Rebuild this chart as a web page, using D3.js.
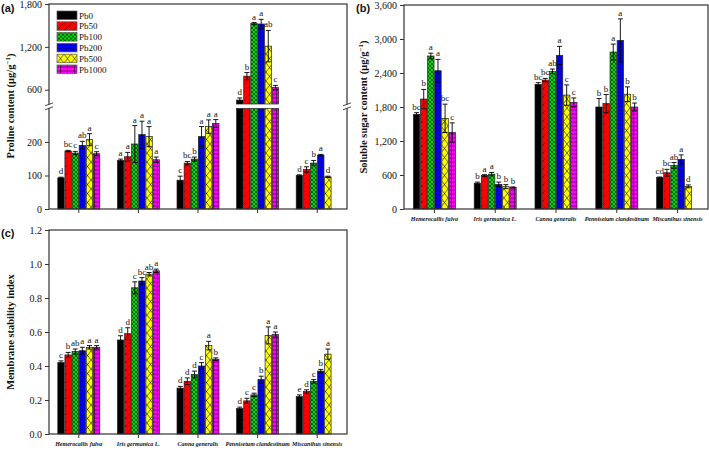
<!DOCTYPE html>
<html>
<head>
<meta charset="utf-8">
<script src="https://cdn.jsdelivr.net/npm/d3@7"></script>
<style>
    body { margin: 0; background: #fff; }
    svg text { font-family: "Liberation Serif", "Times New Roman", serif; fill: #111; }
    .plab { font-family: "Liberation Sans", Arial, sans-serif !important; font-weight: bold; font-size: 11px; }
    .tick text { font-size: 10px; }
    .ytitle { font-weight: bold; font-size: 10.5px; }
    .xlab { font-style: italic; font-weight: bold; font-size: 6px; }
    .letter { font-size: 9px; }
</style>
</head>
<body>
<svg id="chart" width="709" height="450"></svg>
<script>
    const species = ["Hemerocallis fulva", "Iris germanica L.", "Canna generalis", "Pennisetum clandestinum", "Miscanthus sinensis"];
    const treatments = ["Pb0", "Pb50", "Pb100", "Pb200", "Pb500", "Pb1000"];
    const colors = ["#000000", "#ff0000", "#00dd00", "#0000ff", "#ffff00", "#ff00ff"];

    // (a) proline, rows = species, cols = treatments
    const prolineMean = [
        [93, 173, 167, 190, 207, 165],
        [145, 156, 194, 222, 216, 147],
        [86, 137, 149, 216, 246, 255],
        [455, 790, 1525, 1520, 1210, 630],
        [100, 118, 137, 161, 96, null]
    ];
    const prolineErr = [
        [2, 2, 5, 12, 18, 6],
        [4, 13, 55, 40, 30, 8],
        [12, 5, 6, 30, 20, 12],
        [30, 50, 15, 65, 220, 30],
        [2, 8, 8, 2, 2, null]
    ];
    const prolineLetters = [
        ["d", "bc", "c", "ab", "a", "c"],
        ["a", "a", "a", "a", "a", "a"],
        ["c", "bc", "b", "a", "a", "a"],
        ["d", "b", "a", "a", "ab", "c"],
        ["d", "c", "b", "a", "d", null]
    ];

    // (b) soluble sugar
    const sugarMean = [
        [1670, 1940, 2700, 2440, 1600, 1350],
        [455, 590, 615, 435, 395, 380],
        [2200, 2275, 2430, 2710, 2010, 1880],
        [1800, 1860, 2770, 2975, 2025, 1800],
        [555, 640, 770, 875, 400, null]
    ];
    const sugarErr = [
        [30, 170, 50, 200, 250, 170],
        [20, 15, 30, 40, 35, 10],
        [30, 30, 40, 160, 180, 80],
        [150, 160, 140, 380, 130, 70],
        [10, 60, 50, 80, 25, null]
    ];
    const sugarLetters = [
        ["bc", "b", "a", "a", "bc", "c"],
        ["b", "a", "a", "b", "b", "b"],
        ["bc", "bc", "ab", "a", "c", "c"],
        ["b", "b", "a", "a", "b", "b"],
        ["cd", "bc", "ab", "a", "d", null]
    ];

    // (c) membrane stability index
    const msiMean = [
        [0.42, 0.465, 0.485, 0.49, 0.51, 0.51],
        [0.553, 0.59, 0.86, 0.90, 0.94, 0.96],
        [0.27, 0.31, 0.35, 0.40, 0.52, 0.44],
        [0.15, 0.195, 0.23, 0.32, 0.58, 0.585],
        [0.22, 0.25, 0.31, 0.37, 0.47, null]
    ];
    const msiErr = [
        [0.01, 0.015, 0.015, 0.02, 0.01, 0.01],
        [0.025, 0.035, 0.035, 0.02, 0.01, 0.01],
        [0.01, 0.02, 0.02, 0.02, 0.025, 0.008],
        [0.008, 0.015, 0.01, 0.02, 0.05, 0.015],
        [0.01, 0.01, 0.01, 0.01, 0.03, null]
    ];
    const msiLetters = [
        ["c", "b", "ab", "a", "a", "a"],
        ["d", "d", "c", "bc", "ab", "a"],
        ["d", "d", "d", "c", "a", "b"],
        ["d", "c", "c", "b", "a", "a"],
        ["e", "d", "c", "b", "a", null]
    ];

    const svg = d3.select("#chart");
    const defs = svg.append("defs");

    // fill patterns
    function pattern(id, w, h, color, d) {
        const p = defs.append("pattern").attr("id", id)
            .attr("patternUnits", "userSpaceOnUse").attr("width", w).attr("height", h);
        p.append("rect").attr("width", w).attr("height", h).attr("fill", color);
        if (d) p.append("path").attr("d", d).attr("stroke", "#111").attr("stroke-width", 0.6).attr("fill", "none");
    }
    pattern("p0", 4, 4, colors[0], null);
    pattern("p1", 8, 8, colors[1], "M0,8L8,0M-2,2L2,-2M6,10L10,6");
    pattern("p2", 4, 4, colors[2], "M0,0L4,4M4,0L0,4");
    pattern("p3", 6, 3.5, colors[3], "M0,1.75H6");
    pattern("p4", 7, 9, colors[4], "M0,0L7,9M7,0L0,9");
    pattern("p5", 7, 4, colors[5], "M0,2H7M3.5,0V4");

    const inner = d3.scaleBand().domain(treatments).range([-21, 21]).paddingInner(0.1);

    function drawPanel(p) {
        const g = svg.append("g");
        const x = d3.scaleBand().domain(species).range([p.left, p.right]);
        const segs = p.segments.map(s => d3.scaleLinear().domain(s.domain).range(s.range));

        species.forEach((sp, i) => {
            const cx = x(sp) + x.bandwidth() / 2;
            treatments.forEach((t, j) => {
                const v = p.means[i][j];
                if (v == null) return;
                const bx = cx + inner(t);
                const bw = inner.bandwidth();
                segs.forEach(s => {
                    const [d0, d1] = s.domain();
                    if (v <= d0) return;
                    const y1 = s(Math.min(v, d1)), y0 = s(d0);
                    g.append("rect").attr("x", bx).attr("y", y1).attr("width", bw).attr("height", y0 - y1)
                        .attr("fill", `url(#p${j})`).attr("stroke", "#222").attr("stroke-width", 0.7);
                });
                const sc = segs.find(s => v >= s.domain()[0] && v <= s.domain()[1]);
                const e = p.errs[i][j];
                const ex = bx + bw / 2;
                const yt = sc(v + e), yb = sc(v - e);
                g.append("path")
                    .attr("d", `M${ex},${yb}V${yt}M${ex - 2.5},${yt}H${ex + 2.5}M${ex - 2.5},${yb}H${ex + 2.5}`)
                    .attr("stroke", "#000").attr("stroke-width", 0.9).attr("fill", "none");
                g.append("text").attr("class", "letter").attr("x", ex).attr("y", yt - 3)
                    .attr("text-anchor", "middle").text(p.letters[i][j]);
            });
        });

        // y axes
        segs.forEach((s, k) => {
            const ax = g.append("g").attr("transform", `translate(${p.left},0)`)
                .call(d3.axisLeft(s).tickValues(p.ticks[k]).tickSize(4).tickPadding(3).tickFormat(p.fmt));
            ax.select(".domain").remove();
            ax.selectAll("line").attr("stroke", "#333");
        });

        // x ticks
        const xa = g.append("g").attr("transform", `translate(0,${p.bottom})`)
            .call(d3.axisBottom(x).tickSize(4).tickFormat(""));
        xa.select(".domain").remove();
        xa.selectAll("line").attr("stroke", "#333");

        // frame
        g.append("rect").attr("x", p.left).attr("y", p.top).attr("width", p.right - p.left)
            .attr("height", p.bottom - p.top).attr("fill", "none").attr("stroke", "#333").attr("stroke-width", 1.2);

        if (p.breakY) {
            [p.left, p.right].forEach(bx => {
                g.append("rect").attr("x", bx - 2).attr("y", p.breakY - 1.5).attr("width", 4).attr("height", 3).attr("fill", "#fff");
                g.append("path")
                    .attr("d", `M${bx - 4},${p.breakY - 0.5}L${bx + 4},${p.breakY - 3.5}M${bx - 4},${p.breakY + 3.5}L${bx + 4},${p.breakY + 0.5}`)
                    .attr("stroke", "#333").attr("stroke-width", 0.9);
            });
        }

        if (p.showLabels) {
            species.forEach(sp => {
                g.append("text").attr("class", "xlab").attr("x", x(sp) + x.bandwidth() / 2)
                    .attr("y", p.bottom + 12).attr("text-anchor", "middle").text(sp);
            });
        }

        const yt = g.append("text").attr("class", "ytitle")
            .attr("transform", `translate(${p.titleX},${p.titleY}) rotate(-90)`).attr("text-anchor", "middle");
        yt.append("tspan").text(p.title);
        if (p.unit) {
            yt.append("tspan").text(" (μg/g");
            yt.append("tspan").attr("dy", -4).attr("font-size", "7px").text("−1");
            yt.append("tspan").attr("dy", 4).text(")");
        }

        g.append("text").attr("class", "plab").attr("x", p.labX).attr("y", p.labY).text(p.label);
    }

    drawPanel({
        left: 49, right: 347, top: 4, bottom: 209,
        segments: [{ domain: [0, 300], range: [209, 108.5] }, { domain: [400, 1800], range: [104, 4] }],
        ticks: [[0, 100, 200], [600, 1200, 1800]],
        fmt: d3.format(","),
        means: prolineMean, errs: prolineErr, letters: prolineLetters,
        breakY: 106.3, showLabels: false,
        title: "Proline content", unit: true, titleX: 14, titleY: 106,
        label: "(a)", labX: 1, labY: 12
    });

    drawPanel({
        left: 404, right: 708, top: 5, bottom: 209,
        segments: [{ domain: [0, 3600], range: [209, 5] }],
        ticks: [[0, 600, 1200, 1800, 2400, 3000, 3600]],
        fmt: d3.format(","),
        means: sugarMean, errs: sugarErr, letters: sugarLetters,
        showLabels: true,
        title: "Soluble sugar content", unit: true, titleX: 367, titleY: 107,
        label: "(b)", labX: 356, labY: 12
    });

    drawPanel({
        left: 49, right: 347, top: 230, bottom: 434,
        segments: [{ domain: [0, 1.2], range: [434, 230] }],
        ticks: [[0, 0.2, 0.4, 0.6, 0.8, 1.0, 1.2]],
        fmt: d3.format(".1f"),
        means: msiMean, errs: msiErr, letters: msiLetters,
        showLabels: true,
        title: "Membrane stability index", unit: false, titleX: 14, titleY: 332,
        label: "(c)", labX: 1, labY: 237
    });

    // legend in panel (a)
    const lg = svg.append("g").attr("transform", "translate(57,11)");
    treatments.forEach((t, j) => {
        const row = lg.append("g").attr("transform", `translate(0,${j * 10.8})`);
        row.append("rect").attr("width", 20).attr("height", 8.5).attr("fill", `url(#p${j})`)
            .attr("stroke", "#555").attr("stroke-width", 0.7);
        row.append("text").attr("x", 22).attr("y", 7.5).style("font-size", "9px").text(t);
    });
</script>
</body>
</html>
